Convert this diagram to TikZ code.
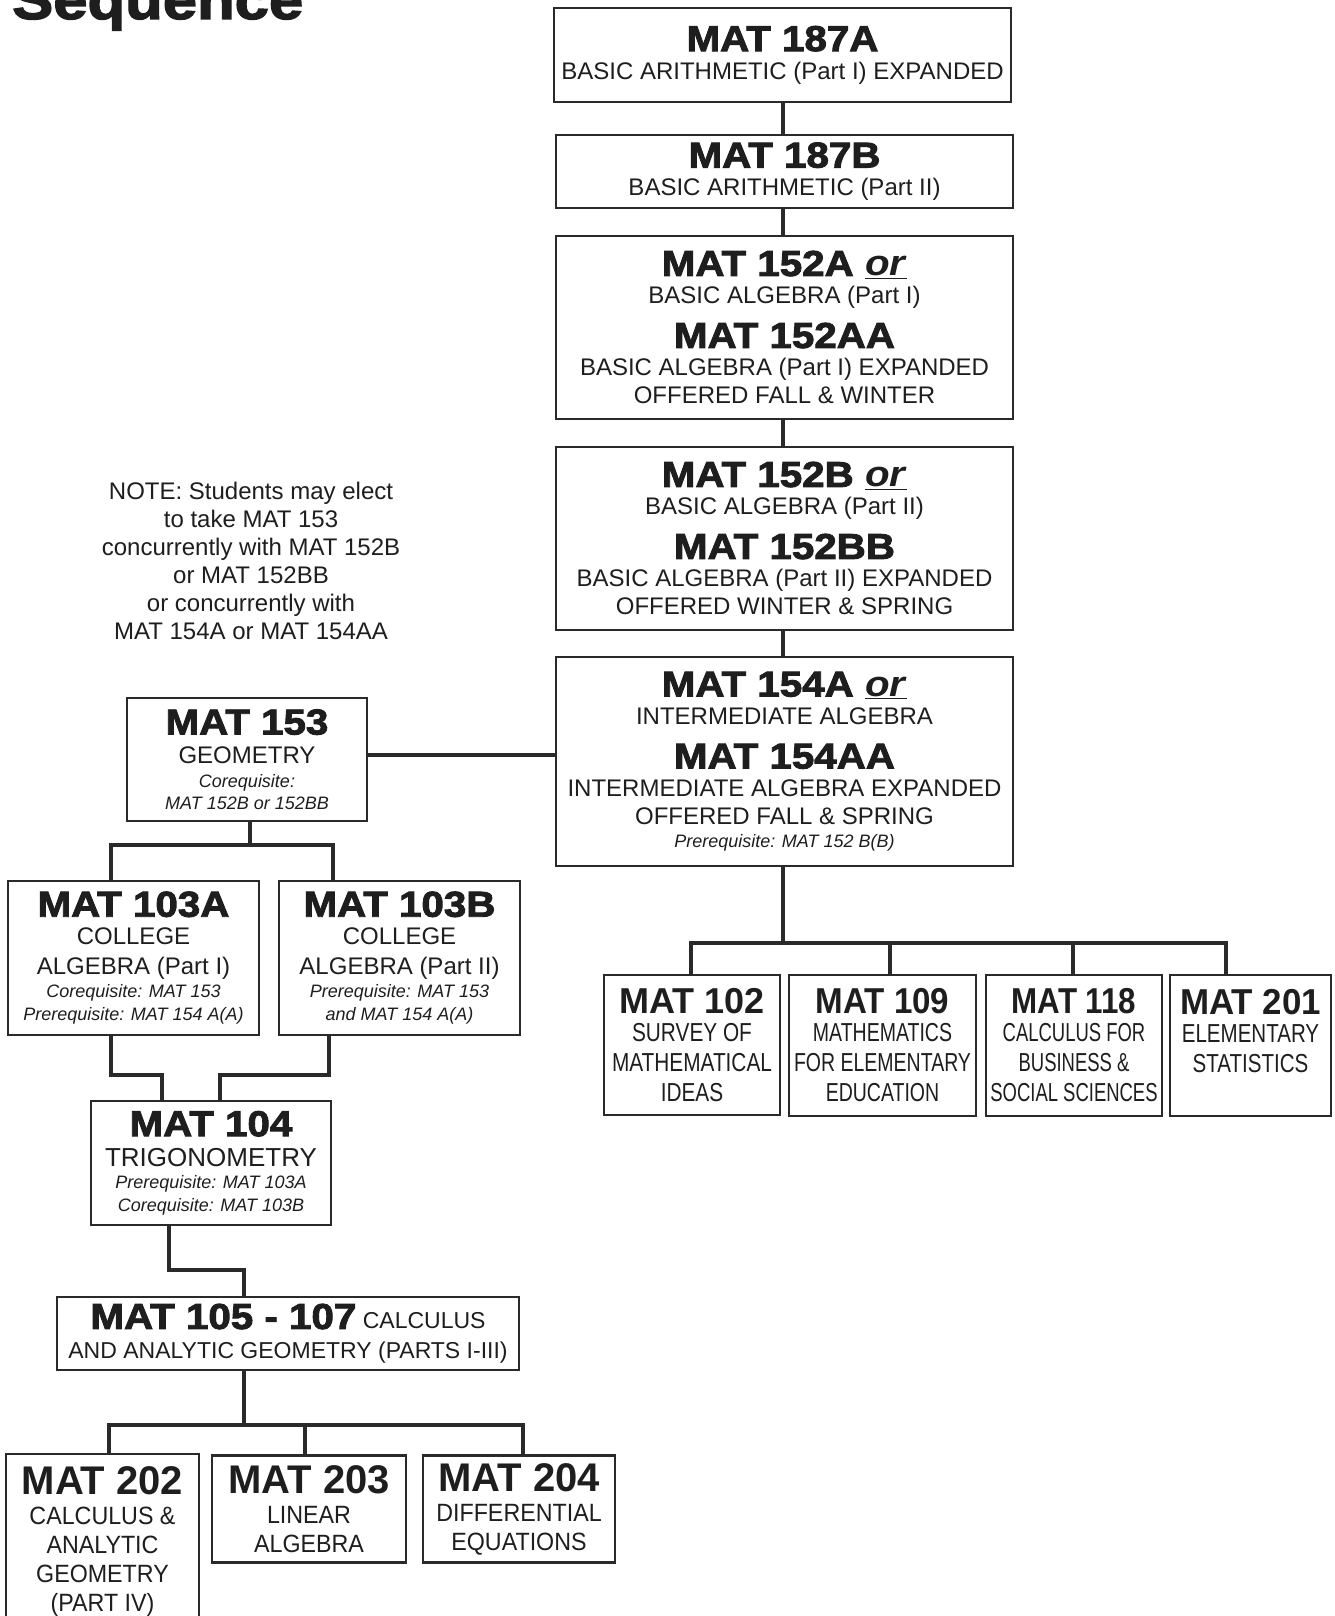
\documentclass[tikz,border=0pt]{standalone}
\usepackage{fontspec}
\usepackage{graphicx}
\setmainfont{Liberation Sans}
\newfontfamily\blackfont{Liberation Sans}[FakeStretch=1.12, BoldFeatures={FakeBold=2.5}]
\definecolor{ink}{HTML}{1E1E1E}
\definecolor{bordc}{HTML}{2A2A2A}
\newcommand\sz[2]{\fontsize{#1}{#2}\selectfont\lineskiplimit=-100pt\relax}
\newcommand\hdr{\fontsize{36}{36}\blackfont\bfseries}
\newcommand\hdrb{\fontsize{36}{36}\selectfont\bfseries}
\newcommand\hdrc{\fontsize{40}{40}\selectfont\bfseries}
\newcommand\nt{\fontsize{18}{22}\selectfont\itshape}
\newcommand\orr{\underline{\textit{or}}}
\newcommand\nx[2]{\scalebox{#1}[1]{#2}}
\begin{document}
\begin{tikzpicture}[x=1pt,y=-1pt,
  box/.style={draw=bordc, line width=2.6pt, inner sep=0pt, align=center, text=ink, font=\sz{24}{28}},
  conn/.style={draw=bordc, line width=3.6pt, line join=miter}]
\fill[white] (0,0) rectangle (1335,1616);
\useasboundingbox (0,0) rectangle (1335,1616);

\node[anchor=base west, text=ink, inner sep=0pt, font=\fontsize{55}{60}\blackfont\bfseries] (title) at (12,19) {Sequence};

\node[box, minimum width=457pt, minimum height=94pt] (a187) at (782.5,55)
  {{\hdr MAT 187A}\\ BASIC ARITHMETIC (Part I) EXPANDED};
\node[box, minimum width=457pt, minimum height=73pt] (b187) at (784.5,171.5)
  {{\hdr MAT 187B}\\ BASIC ARITHMETIC (Part II)};
\node[box, minimum width=457pt, minimum height=183pt] (m152a) at (784.5,327.5)
  {{\hdr MAT 152A \orr}\\ BASIC ALGEBRA (Part I)\\[16pt] {\hdr MAT 152AA}\\ BASIC ALGEBRA (Part I) EXPANDED\\ OFFERED FALL \& WINTER};
\node[box, minimum width=457pt, minimum height=183pt] (m152b) at (784.5,538.5)
  {{\hdr MAT 152B \orr}\\ BASIC ALGEBRA (Part II)\\[16pt] {\hdr MAT 152BB}\\ BASIC ALGEBRA (Part II) EXPANDED\\ OFFERED WINTER \& SPRING};
\node[box, minimum width=457pt, minimum height=209pt] (m154) at (784.5,761.5)
  {{\hdr MAT 154A \orr}\\ INTERMEDIATE ALGEBRA\\[16pt] {\hdr MAT 154AA}\\ INTERMEDIATE ALGEBRA EXPANDED\\ OFFERED FALL \& SPRING\\[-5pt] {\nt Prerequisite: MAT 152 B(B)}};

\node[text=ink, align=center, font=\sz{24}{28}] (note) at (251,561)
  {NOTE: Students may elect\\ to take MAT 153\\ concurrently with MAT 152B\\ or MAT 152BB\\ or concurrently with\\ MAT 154A or MAT 154AA};

\node[box, minimum width=240pt, minimum height=123pt] (m153) at (247,759.5)
  {{\hdr MAT 153}\\[1pt] GEOMETRY\\[-4pt] {\nt Corequisite:}\\[-6pt] {\nt MAT 152B or 152BB}};
\node[box, minimum width=251pt, minimum height=154pt] (m103a) at (133.5,958)
  {{\hdr MAT 103A}\\ COLLEGE\\[2pt] ALGEBRA (Part I)\\[-5pt] {\nt Corequisite: MAT 153}\\[-5pt] {\nt Prerequisite: MAT 154 A(A)}};
\node[box, minimum width=241pt, minimum height=154pt] (m103b) at (399.5,958)
  {{\hdr MAT 103B}\\ COLLEGE\\[2pt] ALGEBRA (Part II)\\[-5pt] {\nt Prerequisite: MAT 153}\\[-5pt] {\nt and MAT 154 A(A)}};
\node[box, minimum width=240pt, minimum height=124pt] (m104) at (211,1163)
  {{\hdr MAT 104}\\[2pt] {\fontsize{26}{28}\selectfont TRIGONOMETRY}\\[-6pt] {\nt Prerequisite: MAT 103A}\\[-5pt] {\nt Corequisite: MAT 103B}};
\node[box, font=\sz{23}{29.5}, minimum width=462pt, minimum height=73pt] (m105) at (288,1333.5)
  {{\hdr MAT 105 - 107} CALCULUS\\ AND ANALYTIC GEOMETRY (PARTS I-III)};

\node[box, font=\sz{25}{28}, minimum width=193pt, minimum height=176pt] (m202) at (102.5,1542)
  {{\hdrc MAT 202}\\[2pt] \nx{0.93}{CALCULUS \&}\\[1pt] \nx{0.93}{ANALYTIC}\\[1pt] \nx{0.93}{GEOMETRY}\\[1pt] \nx{0.93}{(PART IV)}};
\node[box, font=\sz{25}{28}, minimum width=194pt, minimum height=107pt] (m203) at (309,1509)
  {{\hdrc MAT 203}\\[2pt] \nx{0.93}{LINEAR}\\[1pt] \nx{0.93}{ALGEBRA}};
\node[box, font=\sz{25}{28}, minimum width=192pt, minimum height=107pt] (m204) at (519,1509)
  {{\hdrc MAT 204}\\[2pt] \nx{0.93}{DIFFERENTIAL}\\[1pt] \nx{0.93}{EQUATIONS}};

\node[box, font=\sz{26}{28}, minimum width=176pt, minimum height=140pt] (m102) at (692,1045)
  {{\hdrb MAT 102}\\ \nx{0.8}{SURVEY OF}\\[2pt] \nx{0.8}{MATHEMATICAL}\\[2pt] \nx{0.8}{IDEAS}};
\node[box, font=\sz{26}{28}, minimum width=187pt, minimum height=141pt] (m109) at (882.5,1045.5)
  {{\hdrb\nx{0.92}{MAT 109}}\\ \nx{0.75}{MATHEMATICS}\\[2pt] \nx{0.75}{FOR ELEMENTARY}\\[2pt] \nx{0.75}{EDUCATION}};
\node[box, font=\sz{26}{28}, minimum width=176pt, minimum height=141pt] (m118) at (1074,1045.5)
  {{\hdrb\nx{0.87}{MAT 118}}\\ \nx{0.71}{CALCULUS FOR}\\[2pt] \nx{0.71}{BUSINESS \&}\\[2pt] \nx{0.71}{SOCIAL SCIENCES}};
\node[box, font=\sz{26}{28}, minimum width=161pt, minimum height=141pt] (m201) at (1250.5,1045.5)
  {{\hdrb\nx{0.97}{MAT 201}}\\ \nx{0.79}{ELEMENTARY}\\[2pt] \nx{0.79}{STATISTICS}\\[2pt] \phantom{X}};

% main spine
\coordinate (sp) at (783,0);
\draw[conn] (sp |- a187.south) -- (sp |- b187.north);
\draw[conn] (sp |- b187.south) -- (sp |- m152a.north);
\draw[conn] (sp |- m152a.south) -- (sp |- m152b.north);
\draw[conn] (sp |- m152b.south) -- (sp |- m154.north);
\coordinate (h1) at (0,755);
\draw[conn] (h1 -| m153.east) -- (h1 -| m154.west);
% 153 to 103A/B
\coordinate (j1) at (250,845);
\coordinate (l1) at (111,845);
\coordinate (r1) at (333,845);
\draw[conn] (j1 |- m153.south) -- (j1);
\draw[conn] (l1 |- m103a.north) -- (l1) -- (r1) -- (r1 |- m103b.north);
% 103 to 104
\coordinate (k1) at (111,1075);
\coordinate (k2) at (162,1075);
\coordinate (k3) at (329,1075);
\coordinate (k4) at (220,1075);
\draw[conn] (k1 |- m103a.south) -- (k1) -- (k2) -- (k2 |- m104.north);
\draw[conn] (k3 |- m103b.south) -- (k3) -- (k4) -- (k4 |- m104.north);
% 104 to 105
\coordinate (k5) at (169,1270);
\coordinate (k6) at (244,1270);
\draw[conn] (k5 |- m104.south) -- (k5) -- (k6) -- (k6 |- m105.north);
% 105 to 202-204
\coordinate (j2) at (244,1425);
\coordinate (p1) at (109,1425);
\coordinate (p2) at (305,1425);
\coordinate (p3) at (523,1425);
\draw[conn] (j2 |- m105.south) -- (j2);
\draw[conn] (p1 |- m202.north) -- (p1) -- (p3) -- (p3 |- m204.north);
\draw[conn] (p2) -- (p2 |- m203.north);
% 154 to 102-201
\coordinate (j3) at (783,943);
\coordinate (q1) at (691,943);
\coordinate (q2) at (890,943);
\coordinate (q3) at (1073,943);
\coordinate (q4) at (1226,943);
\draw[conn] (j3 |- m154.south) -- (j3);
\draw[conn] (q1 |- m102.north) -- (q1) -- (q4) -- (q4 |- m201.north);
\draw[conn] (q2) -- (q2 |- m109.north);
\draw[conn] (q3) -- (q3 |- m118.north);
\end{tikzpicture}
\end{document}
